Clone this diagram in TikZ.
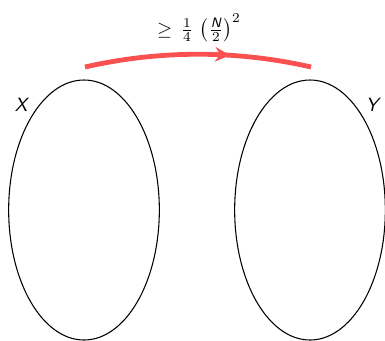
\documentclass[tikz,border=0pt]{standalone}
\usepackage{amsmath,amssymb}
\usepackage[eulergreek]{sansmath}
\usepackage{graphicx}
\usepackage{tikz}
\usetikzlibrary{arrows.meta,positioning,shapes.geometric,decorations.markings}
\definecolor{arcred}{RGB}{250,80,80}
\newcommand{\varN}{\text{\sffamily\itshape N}}

\begin{document}
\begin{tikzpicture}[
  x=0.75pt, y=-0.75pt,
  font=\sffamily\sansmath,
  set/.style  ={ellipse, draw=black, line width=0.8pt,
                minimum width=113pt, minimum height=195pt, inner sep=0pt},
  setlbl/.style={font=\sffamily\itshape\Large, inner sep=0pt},
  arr/.style  ={draw=arcred, line width=3.6pt,
                postaction={decorate, decoration={markings,
                  mark=at position 0.64 with {\arrow[arcred]{Stealth[length=11pt,width=11pt,inset=3.5pt]}}}}},
  lbl/.style  ={font=\sansmath, inner sep=0pt}
]
\useasboundingbox (0,0) rectangle (385,340);

\node[set] (setX) at (84,210) {};
\node[set] (setY) at (310,210) {};
\node[setlbl] (labX) at (21,105) {X};
\node[setlbl] (labY) at (372,105) {Y};

\coordinate (from) at (85,67);
\coordinate (to)   at (311,67);
\draw[arr] (from) .. controls (160,50) and (236,50) .. (to);
\node[lbl] (bound) at (199,28) {\scalebox{1.45}{$\geq\,\frac{1}{4}\,\left(\frac{\varN}{2}\right)^{2}$}};
\end{tikzpicture}
\end{document}
